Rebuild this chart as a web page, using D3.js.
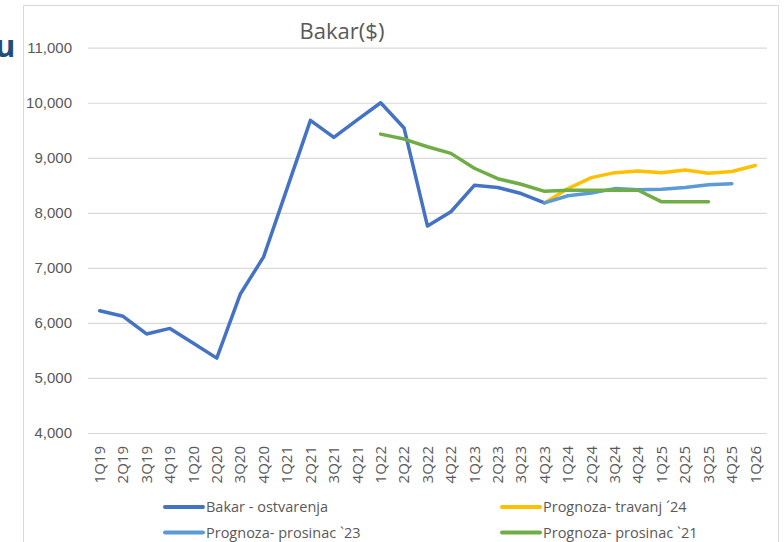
<!DOCTYPE html>
<html>
<head>
<meta charset="utf-8">
<script src="https://cdn.jsdelivr.net/npm/d3@7"></script>
<style>
  body { margin: 0; background: #fff; }
  svg { display: block; font-family: "Open Sans", sans-serif; }
</style>
</head>
<body>
<div id="svg_container"></div>
<script>

// Kvartali (x os)
const kvartali = ['1Q19', '2Q19', '3Q19', '4Q19', '1Q20', '2Q20', '3Q20', '4Q20',
  '1Q21', '2Q21', '3Q21', '4Q21', '1Q22', '2Q22', '3Q22', '4Q22',
  '1Q23', '2Q23', '3Q23', '4Q23', '1Q24', '2Q24', '3Q24', '4Q24',
  '1Q25', '2Q25', '3Q25', '4Q25', '1Q26'];

// Vrijednosti serija (null = nema podatka)
const bakarOstvarenja = [6220, 6120, 5800, 5900, 5630, 5360, 6520, 7200,
  8440, 9680, 9370, 9690, 10000, 9540, 7760, 8020,
  8500, 8460, 8350, 8180, null, null, null, null,
  null, null, null, null, null];

const prognozaTravanj24 = [null, null, null, null, null, null, null, null,
  null, null, null, null, null, null, null, null,
  null, null, null, 8180, 8440, 8640, 8730, 8760,
  8730, 8780, 8720, 8750, 8860];

const prognozaProsinac23 = [null, null, null, null, null, null, null, null,
  null, null, null, null, null, null, null, null,
  null, null, null, 8180, 8310, 8360, 8440, 8420,
  8430, 8460, 8510, 8530, null];

const prognozaProsinac21 = [null, null, null, null, null, null, null, null,
  null, null, null, null, 9430, 9340, 9200, 9080,
  8810, 8620, 8520, 8390, 8410, 8410, 8410, 8410,
  8200, 8200, 8200, null, null];

// Oznake y osi
const yTicks = [4000, 5000, 6000, 7000, 8000, 9000, 10000, 11000];

// Serije redom kako ih Excel crta
const serije = [
  { naziv: 'Bakar - ostvarenja', vrijednosti: bakarOstvarenja, boja: '#4472C4' },
  { naziv: 'Prognoza- travanj \u00B424', vrijednosti: prognozaTravanj24, boja: '#FFC000' },
  { naziv: 'Prognoza- prosinac `23', vrijednosti: prognozaProsinac23, boja: '#5B9BD5' },
  { naziv: 'Prognoza- prosinac `21', vrijednosti: prognozaProsinac21, boja: '#70AD47' }
];

let width = 784;
let height = 542;
const tekstBoja = '#595959';

let svg = d3.select('#svg_container')
            .append('svg')
            .attr('width', width)
            .attr('height', height);

// Dio loga koji viri s lijeve strane
svg.append('text')
   .attr('x', -5)
   .attr('y', 57)
   .attr('font-size', 31)
   .attr('font-weight', 'bold')
   .attr('fill', '#1F4E79')
   .text('u');

// Okvir grafikona
svg.append('rect')
   .attr('x', 23.5)
   .attr('y', 5.5)
   .attr('width', 755)
   .attr('height', 600)
   .attr('fill', 'none')
   .attr('stroke', '#D9D9D9');

// Naslov
svg.append('text')
   .attr('x', 342)
   .attr('y', 39)
   .attr('text-anchor', 'middle')
   .attr('font-size', 22)
   .attr('fill', tekstBoja)
   .text('Bakar($)');

// Skale
let xScale = d3.scalePoint()
               .domain(kvartali)
               .range([88, 767])
               .padding(0.5);

let yScale = d3.scaleLinear()
               .domain([4000, 11000])
               .range([433, 47.7]);

// Mreza i y os
let yAxis = d3.axisLeft(yScale)
              .tickValues(yTicks)
              .tickSize(-(767 - 88))
              .tickPadding(16)
              .tickFormat(d3.format(','));

let yG = svg.append('g')
            .attr('transform', 'translate(88, 0)')
            .call(yAxis);

yG.select('.domain').remove();
yG.selectAll('.tick line')
  .attr('stroke', '#D9D9D9')
  .attr('stroke-width', 1.2);
yG.selectAll('.tick text')
  .attr('font-size', 15)
  .attr('fill', tekstBoja);

// X os - okomite oznake
let xG = svg.append('g');
xG.selectAll('text')
  .data(kvartali)
  .enter()
  .append('text')
  .attr('transform', d => `translate(${xScale(d)}, 446) rotate(-90)`)
  .attr('text-anchor', 'end')
  .attr('dy', '0.35em')
  .attr('font-size', 15)
  .attr('fill', tekstBoja)
  .text(d => d);

// Linije
let line = d3.line()
             .defined(d => d != null)
             .x((d, i) => xScale(kvartali[i]))
             .y(d => yScale(d));

serije.forEach(s => {
  svg.append('path')
     .datum(s.vrijednosti)
     .attr('fill', 'none')
     .attr('stroke', s.boja)
     .attr('stroke-width', 3.5)
     .attr('stroke-linejoin', 'round')
     .attr('stroke-linecap', 'round')
     .attr('d', line);
});

// Legenda 2 x 2
const legendX = [165, 502];
const legendY = [507, 532.5];

let legend = svg.append('g');
serije.forEach((s, i) => {
  let lx = legendX[i % 2];
  let ly = legendY[Math.floor(i / 2)];
  let g = legend.append('g').attr('transform', `translate(${lx}, ${ly})`);

  g.append('line')
   .attr('x1', 0)
   .attr('x2', 38)
   .attr('stroke', s.boja)
   .attr('stroke-width', 4)
   .attr('stroke-linecap', 'round');

  g.append('text')
   .attr('x', 41)
   .attr('dy', '0.35em')
   .attr('font-size', 14.5)
   .attr('fill', tekstBoja)
   .text(s.naziv);
});

</script>
</body>
</html>
